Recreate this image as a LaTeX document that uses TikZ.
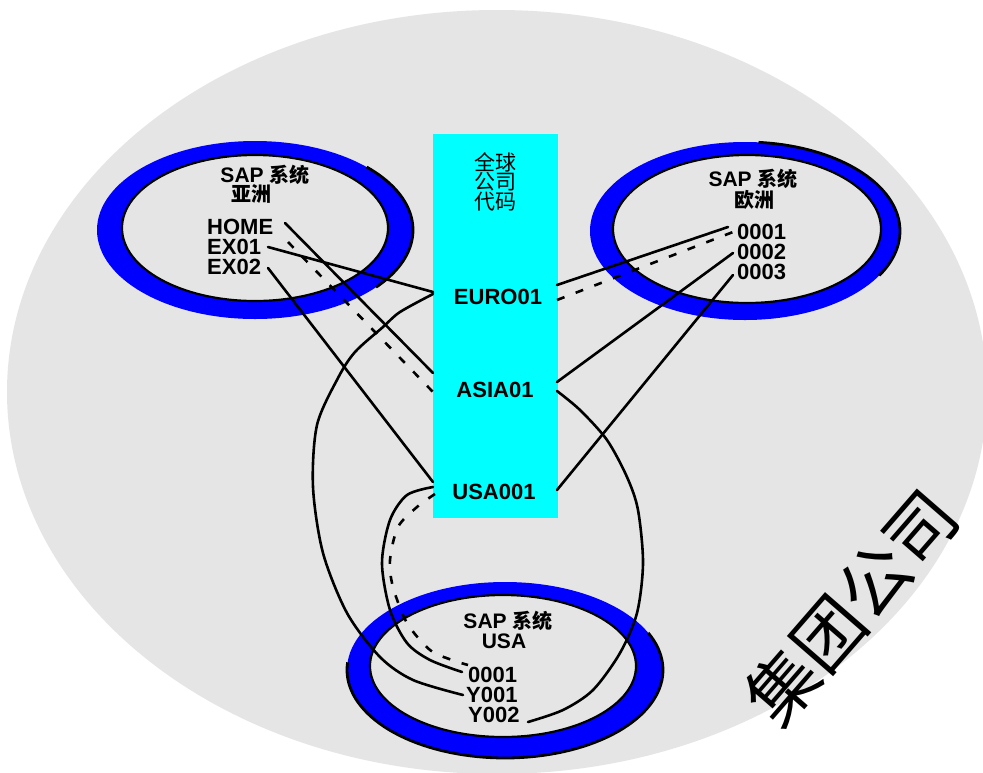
\documentclass[tikz,border=0pt]{standalone}
\usepackage{fontspec}
\setmainfont{Liberation Sans}
\newfontfamily\cjk{Noto Sans CJK SC}
\definecolor{bggray}{RGB}{229,229,229}
\definecolor{ringblue}{RGB}{0,0,255}
\definecolor{aqua}{RGB}{0,255,255}
\begin{document}
\begin{tikzpicture}[x=1pt,y=-1pt,
  code/.style={font=\fontsize{22}{22}\selectfont\bfseries, inner sep=0pt, anchor=west},
  boxcode/.style={font=\fontsize{22}{22}\selectfont\bfseries, inner sep=0pt},
  title/.style={font=\fontsize{21}{21}\selectfont\bfseries, inner sep=0pt},
  cjktxt/.style={font=\cjk\bfseries\fontsize{20}{20}\selectfont, inner sep=0pt},
  conn/.style={line width=2.6pt, line cap=round},
  dconn/.style={line width=2.6pt, dash pattern=on 8pt off 12pt},
  ringout/.style={fill=ringblue},
  ringin/.style={fill=bggray, draw=black, line width=2.2pt},
  ringedge/.style={draw=black, line width=2.8pt}]

\useasboundingbox (0,0) rectangle (983,772);
\fill[white] (0,0) rectangle (983,772);
\fill[bggray] (497,392) ellipse[x radius=490, y radius=382];

% rings
\fill[ringout] (255,230) ellipse[x radius=158, y radius=89];
\draw[ringedge, shift={(255,230)}] plot[domain=-45:40, samples=40] ({158*cos(\x)},{89*sin(\x)});
\draw[ringin] (255,228) ellipse[x radius=133, y radius=73];

\fill[ringout] (745,231) ellipse[x radius=155, y radius=89];
\draw[ringedge, shift={(745,231)}] plot[domain=-85:30, samples=50] ({155*cos(\x)},{89*sin(\x)});
\draw[ringin] (747,229) ellipse[x radius=134, y radius=74];

\fill[ringout] (505,670) ellipse[x radius=158, y radius=88];
\draw[ringedge, shift={(505,670)}] plot[domain=-25:185, samples=80] ({158*cos(\x)},{88*sin(\x)});
\draw[ringin] (503,666) ellipse[x radius=133, y radius=71];

% central box
\node[fill=aqua, minimum width=125pt, minimum height=384pt, inner sep=0pt] (gcc) at (495.5,326) {};

% texts
\node[title] (asT) at (265,175) {SAP {\cjk\fontsize{20}{20}\selectfont 系统}};
\node[cjktxt] (asT2) at (251,194) {亚洲};
\node[code] (home) at (207,227) {HOME};
\node[code] (ex01) at (207,247) {EX01};
\node[code] (ex02) at (207,267) {EX02};

\node[title] (euT) at (753,179) {SAP {\cjk\fontsize{20}{20}\selectfont 系统}};
\node[cjktxt] (euT2) at (754,200) {欧洲};
\node[code] (e1) at (737,232) {0001};
\node[code] (e2) at (737,252) {0002};
\node[code] (e3) at (737,272) {0003};

\node[title] (usT) at (508,621) {SAP {\cjk\fontsize{20}{20}\selectfont 系统}};
\node[title] (usT2) at (504,641) {USA};
\node[code] (u1) at (468,675) {0001};
\node[code] (u2) at (466,695) {Y001};
\node[code] (u3) at (468,715) {Y002};

\node[cjktxt, font=\cjk\fontsize{21}{21}\selectfont] (g1) at (495,162) {全球};
\node[cjktxt, font=\cjk\fontsize{21}{21}\selectfont] (g2) at (495,182) {公司};
\node[cjktxt, font=\cjk\fontsize{21}{21}\selectfont] (g3) at (495,202) {代码};
\node[boxcode] (euro) at (498,297) {EURO01};
\node[boxcode] (asia) at (495,390) {ASIA01};
\node[boxcode] (usa) at (494,492) {USA001};

\node[font=\cjk\fontsize{70}{70}\selectfont, rotate=49, inner sep=0pt] (grp) at (851,607) {集团公司};

% connector end points
\coordinate (homeE) at (285,223);
\coordinate (homeD) at (288,242);
\coordinate (ex01E) at (268,247);
\coordinate (ex02E) at (268,268);
\coordinate (euroL1) at (433,292);
\coordinate (euroL2) at (433,294);
\coordinate (asiaL1) at (433,373);
\coordinate (asiaL2) at (433,392);
\coordinate (usaL1) at (433,482);
\coordinate (usaL2) at (433,487);
\coordinate (usaL3) at (435,494);
\coordinate (euroR1) at (557,285);
\coordinate (euroR2) at (557,300);
\coordinate (asiaR1) at (557,382);
\coordinate (asiaR2) at (557,391);
\coordinate (usaR) at (557,490);
\coordinate (e1W) at (728,227);
\coordinate (e1Wd) at (733,232);
\coordinate (e2W) at (733,253);
\coordinate (e3W) at (733,275);
\coordinate (u1W) at (462,672);
\coordinate (u1Wd) at (468,665);
\coordinate (u2W) at (463,695);
\coordinate (u3E) at (528,722);

% straight connectors
\draw[conn] (homeE) -- (asiaL1);
\draw[dconn] (homeD) -- (asiaL2);
\draw[conn] (ex01E) -- (euroL1);
\draw[conn] (ex02E) -- (usaL1);
\draw[conn] (euroR1) -- (e1W);
\draw[dconn] (euroR2) -- (e1Wd);
\draw[conn] (asiaR1) -- (e2W);
\draw[conn] (usaR) -- (e3W);

% curved connectors
\draw[conn] plot[smooth, tension=0.5] coordinates {(euroL2) (400,312) (383,327) (355,352) (338,378) (317,425) (313,487) (323,553) (347,613) (380,657) (413,680) (u2W)};
\draw[conn] plot[smooth, tension=0.5] coordinates {(asiaR2) (580,410) (607,440) (627,477) (638,510) (643,563) (637,613) (620,653) (593,690) (563,710) (u3E)};
\draw[conn] plot[smooth, tension=0.5] coordinates {(usaL2) (407,495) (390,520) (382,563) (390,610) (407,643) (430,660) (u1W)};
\draw[dconn] plot[smooth, tension=0.5] coordinates {(usaL3) (417,507) (398,527) (390,560) (393,587) (407,623) (430,650) (452,660) (u1Wd)};

\end{tikzpicture}
\end{document}
